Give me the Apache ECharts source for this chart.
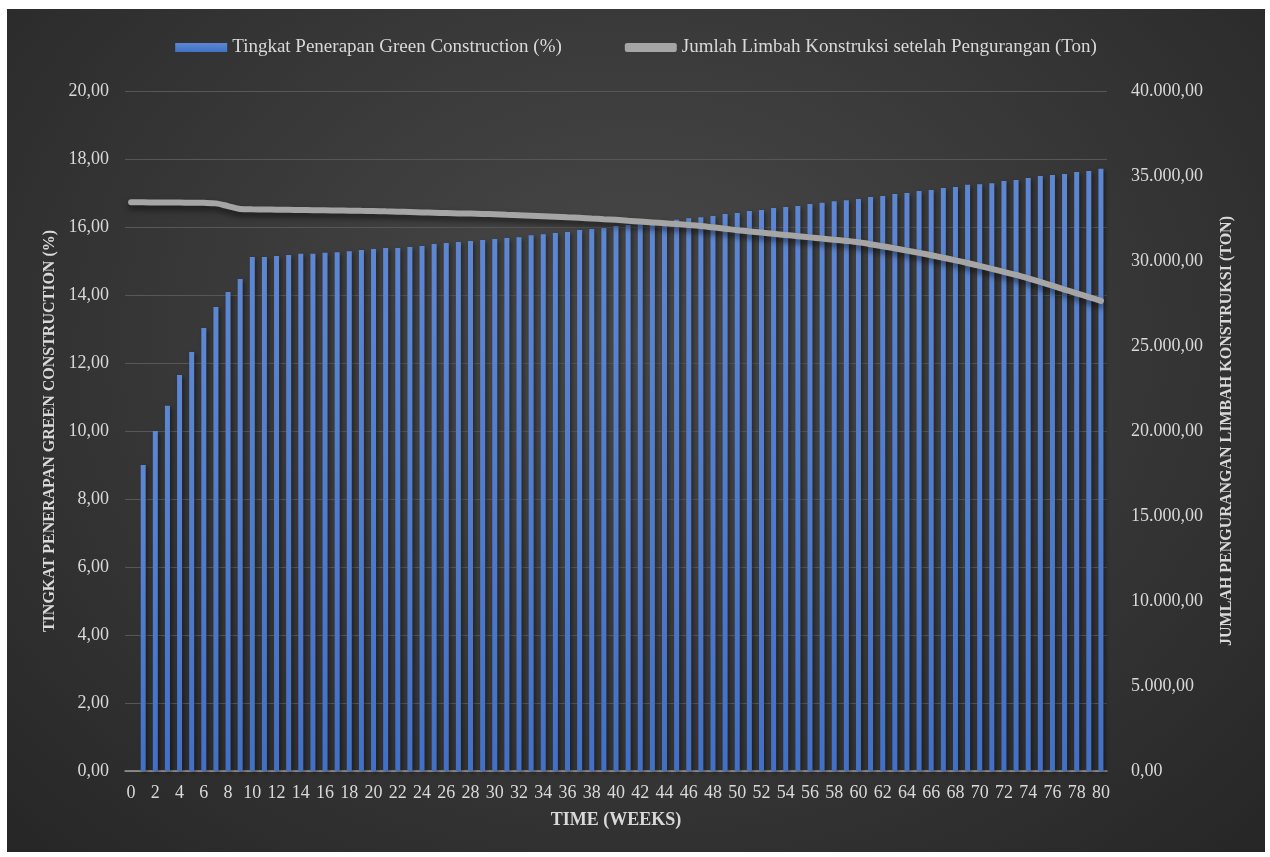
<!DOCTYPE html>
<html>
<head>
<meta charset="utf-8">
<title>Green Construction</title>
<script src="https://cdn.jsdelivr.net/npm/echarts@6/dist/echarts.min.js"></script>
<style>
    html, body { margin: 0; padding: 0; background: #ffffff; }
    #myechart {
        position: absolute; left: 7px; top: 9px; width: 1258px; height: 843px;
        background: radial-gradient(ellipse at 50% 40%, #4a4a4a 0%, #3a3a3a 45%, #262626 100%);
    }
</style>
</head>
<body>
<div id="myechart"></div>
<script>
// minggu ke-0 .. ke-80
let weeks = [
    "0", "1", "2", "3", "4", "5", "6", "7", "8", "9", "10",
    "11", "12", "13", "14", "15", "16", "17", "18", "19", "20",
    "21", "22", "23", "24", "25", "26", "27", "28", "29", "30",
    "31", "32", "33", "34", "35", "36", "37", "38", "39", "40",
    "41", "42", "43", "44", "45", "46", "47", "48", "49", "50",
    "51", "52", "53", "54", "55", "56", "57", "58", "59", "60",
    "61", "62", "63", "64", "65", "66", "67", "68", "69", "70",
    "71", "72", "73", "74", "75", "76", "77", "78", "79", "80"
];

// Tingkat Penerapan Green Construction (%)
let greenRate = [
    null,
    9.00, 10.00, 10.74, 11.65, 12.32, 13.03, 13.65, 14.09, 14.47, 15.12,
    15.12, 15.15, 15.18, 15.21, 15.21, 15.24, 15.26, 15.29, 15.32, 15.35,
    15.38, 15.38, 15.41, 15.44, 15.50, 15.53, 15.56, 15.59, 15.62, 15.65,
    15.68, 15.70, 15.76, 15.79, 15.82, 15.85, 15.91, 15.94, 15.97, 16.03,
    16.06, 16.09, 16.12, 16.17, 16.21, 16.26, 16.29, 16.32, 16.38, 16.41,
    16.47, 16.50, 16.56, 16.59, 16.62, 16.68, 16.71, 16.76, 16.79, 16.82,
    16.88, 16.91, 16.97, 17.00, 17.06, 17.09, 17.15, 17.18, 17.24, 17.26,
    17.29, 17.35, 17.38, 17.44, 17.50, 17.53, 17.56, 17.62, 17.65, 17.71
];

// Jumlah Limbah Konstruksi setelah Pengurangan (Ton)
let wasteTon = [
    33450,
    33450, 33445, 33440, 33435, 33430, 33420, 33390, 33230, 33060, 33040,
    33030, 33020, 33010, 33000, 32990, 32980, 32970, 32960, 32950, 32940,
    32920, 32900, 32880, 32860, 32840, 32820, 32800, 32790, 32770, 32750,
    32720, 32690, 32660, 32630, 32600, 32570, 32540, 32500, 32460, 32420,
    32370, 32320, 32270, 32220, 32170, 32120, 32060, 31980, 31900, 31810,
    31740, 31670, 31600, 31530, 31460, 31390, 31320, 31250, 31180, 31100,
    30990, 30870, 30740, 30610, 30480, 30340, 30190, 30040, 29880, 29710,
    29540, 29360, 29180, 28980, 28770, 28550, 28320, 28100, 27880, 27650
];

let barName = "Tingkat Penerapan Green Construction (%)";
let lineName = "Jumlah Limbah Konstruksi setelah Pengurangan (Ton)";

// format angka Indonesia: 35.000,00
function fmtId(v) {
    let parts = Number(v).toFixed(2).split(".");
    parts[0] = parts[0].replace(/\B(?=(\d{3})+(?!\d))/g, ".");
    return parts[0] + "," + parts[1];
}

let font = "Liberation Serif";
let txt = "#d9d9d9";

let option = {
    backgroundColor: "transparent",
    textStyle: { fontFamily: font },
    legend: {
        top: 24,
        left: "center",
        itemGap: 63,
        itemWidth: 52,
        itemHeight: 9,
        textStyle: { color: txt, fontSize: 19, fontFamily: font },
        data: [
            { name: barName, icon: "rect" },
            { name: lineName, icon: "roundRect", itemStyle: { color: "#a5a5a5" } }
        ]
    },
    grid: { left: 118, right: 158, top: 82, bottom: 81 },
    xAxis: {
        type: "category",
        data: weeks,
        name: "TIME (WEEKS)",
        nameLocation: "middle",
        nameGap: 40,
        nameTextStyle: { color: txt, fontSize: 18, fontWeight: "bold", fontFamily: font },
        axisLine: { lineStyle: { color: "#9a9a9a", width: 1.5 } },
        axisTick: { show: false },
        axisLabel: { interval: 1, color: txt, fontSize: 18, fontFamily: font, margin: 13 }
    },
    yAxis: [
        {
            type: "value",
            min: 0,
            max: 20,
            interval: 2,
            name: "TINGKAT PENERAPAN GREEN CONSTRUCTION (%)",
            nameLocation: "middle",
            nameGap: 67,
            nameTextStyle: { color: txt, fontSize: 16, fontWeight: "bold", fontFamily: font },
            axisLine: { show: false },
            axisTick: { show: false },
            axisLabel: { color: txt, fontSize: 18, fontFamily: font, margin: 16, formatter: fmtId },
            splitLine: { lineStyle: { color: "#575757", width: 1 } }
        },
        {
            type: "value",
            min: 0,
            max: 40000,
            interval: 5000,
            name: "JUMLAH PENGURANGAN LIMBAH KONSTRUKSI (TON)",
            nameLocation: "middle",
            nameGap: 112,
            nameRotate: 90,
            nameTextStyle: { color: txt, fontSize: 16, fontWeight: "bold", fontFamily: font },
            axisLine: { show: false },
            axisTick: { show: false },
            axisLabel: { color: txt, fontSize: 18, fontFamily: font, margin: 24, formatter: fmtId },
            splitLine: { show: false }
        }
    ],
    series: [
        {
            name: barName,
            type: "bar",
            yAxisIndex: 0,
            data: greenRate,
            barWidth: 5,
            itemStyle: {
                color: new echarts.graphic.LinearGradient(0, 0, 0, 1, [
                    { offset: 0, color: "#5d87d3" },
                    { offset: 1, color: "#4270c6" }
                ]),
                shadowColor: "rgba(0,0,0,0.45)",
                shadowBlur: 4,
                shadowOffsetX: 2,
                shadowOffsetY: 2
            }
        },
        {
            name: lineName,
            type: "line",
            yAxisIndex: 1,
            data: wasteTon,
            smooth: 0.3,
            symbol: "none",
            lineStyle: {
                color: "#a5a5a5",
                width: 6,
                cap: "round",
                shadowColor: "rgba(0,0,0,0.55)",
                shadowBlur: 6,
                shadowOffsetY: 4
            },
            itemStyle: { color: "#a5a5a5" },
            z: 3
        }
    ]
};

let myChart = echarts.init(document.getElementById("myechart"));
myChart.setOption(option);
</script>
</body>
</html>
